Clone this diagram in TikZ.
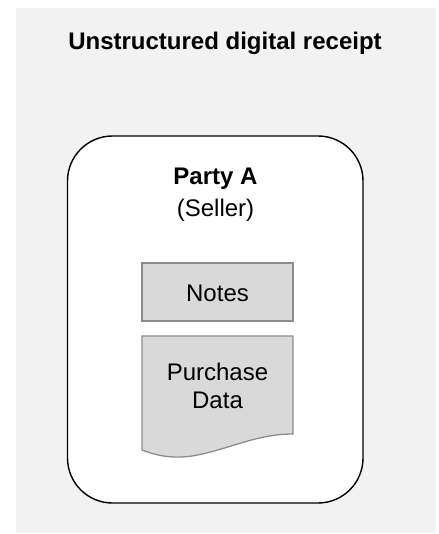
\documentclass[tikz,border=0pt]{standalone}
\usepackage{fontspec}
\setmainfont{Liberation Sans}
\definecolor{pagebg}{HTML}{F2F2F2}
\definecolor{itemfill}{HTML}{D9D9D9}
\definecolor{itemline}{HTML}{8C8C8C}
\tikzset{
  lbl/.style={font=\fontsize{24}{28}\selectfont, inner sep=0pt, anchor=base},
  partybox/.style={draw=black, line width=1.4pt, fill=white, rounded corners=45pt},
  itembox/.style={draw=itemline, line width=1.3pt, fill=itemfill},
}
\begin{document}
\begin{tikzpicture}[x=1pt,y=-1pt]
  \useasboundingbox (0,0) rectangle (438,534);
  % page background
  \fill[pagebg] (16,8) rectangle (436,533);
  \node[lbl, font=\fontsize{24}{28}\selectfont\bfseries] (title) at (225,50) {Unstructured digital receipt};

  % party container
  \draw[partybox] (67.5,136) rectangle (363,503);
  \node[lbl, font=\fontsize{24}{28}\selectfont\bfseries] (partyname) at (215.5,185) {Party A};
  \node[lbl] (partyrole) at (215.5,217) {(Seller)};

  % notes box
  \draw[itembox] (142,263) rectangle (293,321);
  \node[lbl] (notes) at (217.5,301.5) {Notes};

  % purchase data document with wavy bottom
  \draw[itembox] (142,336) -- (293,336) -- (293,434)
    .. controls (255,434) and (228,450) .. (192,456)
    .. controls (170,459) and (155,455) .. (142,450) -- cycle;
  \node[lbl] (purchase) at (217.5,380) {Purchase};
  \node[lbl] (data) at (217.5,408) {Data};
\end{tikzpicture}
\end{document}
